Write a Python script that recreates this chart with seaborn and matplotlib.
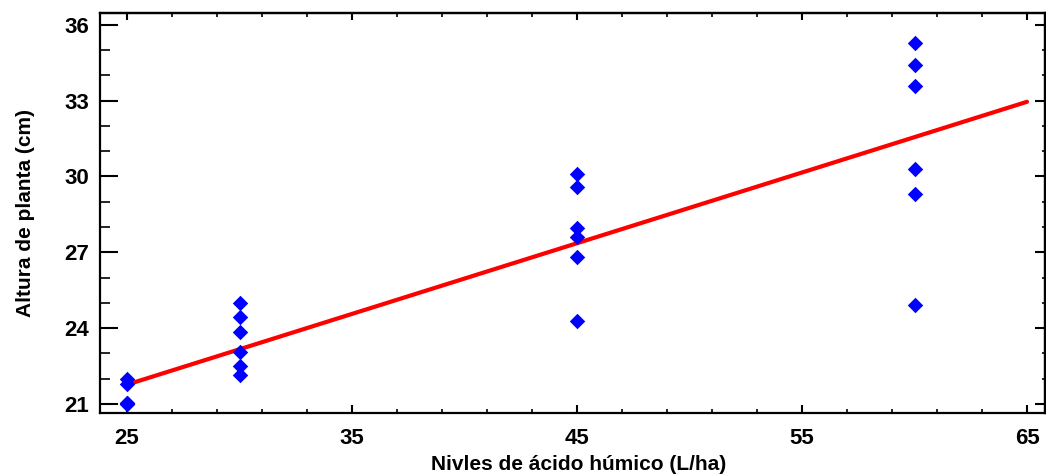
import numpy as np
import pandas as pd
import seaborn as sns
import matplotlib.pyplot as plt
from matplotlib.ticker import FixedLocator, MultipleLocator

# niveles de acido humico (L/ha) y altura de planta (cm)
dosis = [25] * 6 + [30] * 6 + [45] * 6 + [60] * 6
altura = [22.0, 21.8, 21.05, 21.0, 21.0, 21.05,
          25.0, 24.45, 23.85, 23.05, 22.5, 22.15,
          30.1, 29.6, 27.95, 27.6, 26.8, 24.3,
          35.3, 34.4, 33.6, 30.3, 29.3, 24.9]
xticks = [25, 35, 45, 55, 65]
yticks = [21, 24, 27, 30, 33, 36]

df = pd.DataFrame({'dosis': dosis, 'altura': altura})

sns.set_style('white')
plt.rcParams['font.family'] = ['Liberation Sans', 'DejaVu Sans']
plt.rcParams['text.color'] = 'black'
plt.rcParams['axes.labelcolor'] = 'black'
plt.rcParams['xtick.color'] = 'black'
plt.rcParams['ytick.color'] = 'black'

fig = plt.figure(figsize=(10.46, 4.75), dpi=100)
ax = fig.add_axes([100 / 1046, 1 - 413 / 475, 945 / 1046, 400 / 475])
# la recta se dibuja entre 25 y 65
ax.set_xlim(25, 65)
sns.regplot(data=df, x='dosis', y='altura', ax=ax, ci=None, truncate=False,
            marker='D',
            scatter_kws={'color': '#0000ff', 's': 62, 'linewidths': 0, 'alpha': 1, 'zorder': 3},
            line_kws={'color': '#ff0000', 'linewidth': 3, 'zorder': 2})
ax.set_xlim(23.8, 65.8)
ax.set_ylim(20.64, 36.47)

ax.xaxis.set_major_locator(FixedLocator(xticks))
ax.xaxis.set_minor_locator(FixedLocator(np.arange(23, 67, 2)))
ax.yaxis.set_major_locator(FixedLocator(yticks))
ax.yaxis.set_minor_locator(MultipleLocator(1))

for s in ax.spines.values():
    s.set_linewidth(1.6)
    s.set_color('black')

ax.tick_params(axis='x', which='both', bottom=True, top=False)
ax.tick_params(axis='y', which='both', left=True, right=False)
ax.tick_params(axis='x', which='major', direction='in', length=6, width=1.5,
               labelsize=16, pad=11)
ax.tick_params(axis='x', which='minor', direction='in', length=3, width=1.2)
ax.tick_params(axis='y', which='major', direction='in', length=13, width=1.5,
               labelsize=16, pad=8)
ax.tick_params(axis='y', which='minor', direction='in', length=7, width=1.2)
for lab in ax.get_xticklabels() + ax.get_yticklabels():
    lab.set_fontweight('bold')

# marcas arriba y a la derecha
top = ax.secondary_xaxis('top')
top.xaxis.set_major_locator(FixedLocator(xticks))
top.xaxis.set_minor_locator(FixedLocator(np.arange(23, 67, 2)))
top.tick_params(which='both', top=True, labeltop=False)
top.tick_params(which='major', direction='in', length=5, width=1.5)
top.tick_params(which='minor', direction='in', length=3, width=1.2)
right = ax.secondary_yaxis('right')
right.yaxis.set_major_locator(FixedLocator(yticks))
right.yaxis.set_minor_locator(MultipleLocator(1))
right.tick_params(which='both', right=True, labelright=False)
right.tick_params(which='major', direction='in', length=7, width=1.5)
right.tick_params(which='minor', direction='in', length=2, width=1.2)
for sec in (top, right):
    for s in sec.spines.values():
        s.set_linewidth(1.6)
        s.set_color('black')

ax.set_xlabel('Nivles de ácido húmico (L/ha)', fontsize=15, fontweight='bold')
ax.xaxis.set_label_coords(0.507, -0.128, transform=ax.transAxes)
ax.xaxis.label.set_va('center')
ax.set_ylabel('Altura de planta (cm)', fontsize=15, fontweight='bold', labelpad=21)

plt.savefig('out.png', dpi=100)
plt.close('all')
